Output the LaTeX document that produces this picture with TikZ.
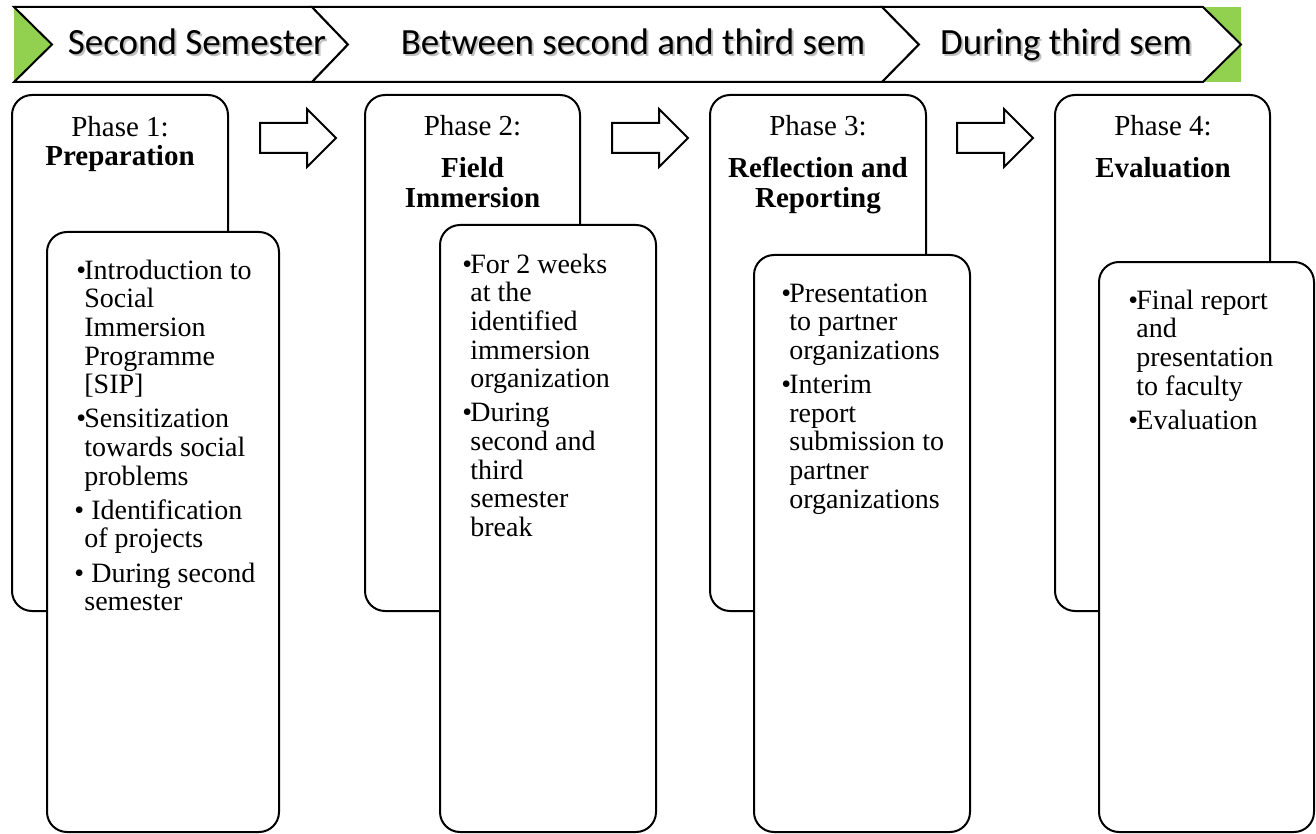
\documentclass[tikz,border=0pt]{standalone}
\usepackage{fontspec}
\setmainfont{Liberation Serif}
\newfontfamily\calib{Carlito}
\definecolor{sgreen}{HTML}{92D050}
\begin{document}
\begin{tikzpicture}[x=0.5pt,y=-0.5pt,
  chev/.style={draw=black,fill=white,line width=1pt,line join=miter},
  phbox/.style={draw=black,fill=white,line width=1pt,rounded corners=10pt},
  barr/.style={draw=black,fill=white,line width=1pt,line join=miter},
  semtxt/.style={font=\calib\fontsize{18.5}{22}\selectfont,anchor=base,inner sep=0pt},
  semshadow/.style={semtxt,text=black!25},
  headtxt/.style={font=\fontsize{14.5}{15}\selectfont,anchor=base,align=center,inner sep=0pt},
  itemtxt/.style={font=\fontsize{14}{14.35}\selectfont,anchor=base west,align=left,inner sep=0pt},
  bul/.style={font=\fontsize{14}{14.35}\selectfont,anchor=base west,inner sep=0pt},
]
\useasboundingbox (0,0) rectangle (1316,834);

% ---------- top banner ----------
\fill[sgreen] (14,7) rectangle (1241,82);
\draw[chev] (14,7) -- (312,7) -- (348,44.5) -- (312,82) -- (14,82) -- (52,44.5) -- cycle;
\draw[chev] (312,7) -- (882,7) -- (919,44.5) -- (882,82) -- (312,82) -- (348,44.5) -- cycle;
\draw[chev] (882,7) -- (1203,7) -- (1241,44.5) -- (1203,82) -- (882,82) -- (919,44.5) -- cycle;

\node[semshadow] (s1s) at (199,57) {Second Semester};
\node[semtxt] (s1) at (197,55) {Second Semester};
\node[semshadow] (s2s) at (635,57) {Between second and third sem};
\node[semtxt] (s2) at (633,55) {Between second and third sem};
\node[semshadow] (s3s) at (1068,57) {During third sem};
\node[semtxt] (s3) at (1066,55) {During third sem};

% ---------- block arrows ----------
\foreach \dx in {0,352,697}{
  \draw[barr] ({260+\dx},123) -- ({307+\dx},123) -- ({307+\dx},109) -- ({336+\dx},138)
    -- ({307+\dx},167) -- ({307+\dx},153) -- ({260+\dx},153) -- cycle;
}

% ---------- phase 1 ----------
% (multi-line nodes are placed by the baseline of their last line)
\draw[phbox] (12,95) rectangle (228,611);
\node[headtxt] (h1) at (120,166) {Phase 1:\\[-0.5pt]\textbf{Preparation}};
\draw[phbox] (47,232) rectangle (279,832);
\node[bul] (b11) at (76,279) {\textbullet};
\node[itemtxt] (t11) at (84,393.8) {Introduction to\\Social\\Immersion\\Programme\\{[SIP]}};
\node[bul] (b12) at (76,427.8) {\textbullet};
\node[itemtxt] (t12) at (84,485.2) {Sensitization\\towards social\\problems};
\node[bul] (b13) at (74,519.2) {\textbullet};
\node[itemtxt] (t13) at (84,547.9) {\hspace*{3.5pt}Identification\\of projects};
\node[bul] (b14) at (74,582) {\textbullet};
\node[itemtxt] (t14) at (84,610.7) {\hspace*{3.5pt}During second\\semester};

% ---------- phase 2 ----------
\draw[phbox] (365,95) rectangle (580,611);
\node[headtxt] (h2) at (472.5,208) {Phase 2:\\[6pt]\textbf{Field}\\\textbf{Immersion}};
\draw[phbox] (440,225) rectangle (656,832);
\node[bul] (b21) at (462,273) {\textbullet};
\node[itemtxt] (t21) at (470,387.8) {For 2 weeks\\at the\\identified\\immersion\\organization};
\node[bul] (b22) at (462,421.8) {\textbullet};
\node[itemtxt] (t22) at (470,536.6) {During\\second and\\third\\semester\\break};

% ---------- phase 3 ----------
\draw[phbox] (710,95) rectangle (926,611);
\node[headtxt] (h3) at (818,208) {Phase 3:\\[6pt]\textbf{Reflection and}\\\textbf{Reporting}};
\draw[phbox] (754,255) rectangle (970,832);
\node[bul] (b31) at (781,302) {\textbullet};
\node[itemtxt] (t31) at (789,359.4) {Presentation\\to partner\\organizations};
\node[bul] (b32) at (781,393.4) {\textbullet};
\node[itemtxt] (t32) at (789,508.2) {Interim\\report\\submission to\\partner\\organizations};

% ---------- phase 4 ----------
\draw[phbox] (1055,95) rectangle (1270,611);
\node[headtxt] (h4) at (1163,178) {Phase 4:\\[6pt]\textbf{Evaluation}};
\draw[phbox] (1099,262) rectangle (1314,832);
\node[bul] (b41) at (1128,309) {\textbullet};
\node[itemtxt] (t41) at (1136,395.1) {Final report\\and\\presentation\\to faculty};
\node[bul] (b42) at (1128,429) {\textbullet};
\node[itemtxt] (t42) at (1136,429) {Evaluation};
\end{tikzpicture}
\end{document}
